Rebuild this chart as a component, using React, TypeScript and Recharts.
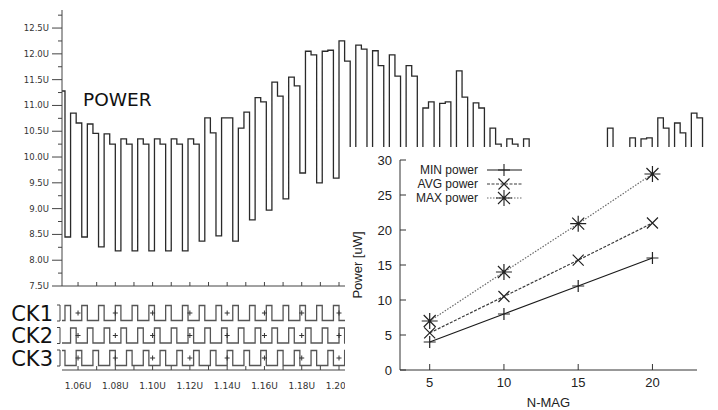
import { LineChart, Line, XAxis, YAxis, ComposedChart, Scatter, Legend } from 'recharts';

// ---- left panel: POWER waveform (time axis in U) ----
const T_START = 1.0514;
const T_END = 1.4033;
const CYCLE_START = 1.056;
const PHASE = 0.003;

const POWER_LEAD = [11.28, 8.45];
const POWER_H1 = [
  10.85, 10.64, 10.45, 10.35, 10.35, 10.35, 10.35, 10.35, 10.76, 10.76,
  10.56, 11.15, 11.45, 11.55, 12.05, 12.05, 12.25, 12.17, 12.06, 11.98,
  11.77, 10.95, 11.04, 11.67, 11.05, 10.56, 10.35, 10.35, 10.0, 9.9,
  9.9, 10.0, 10.56, 10.1, 10.35, 10.76, 10.66, 10.85,
];
const POWER_H2 = [
  10.66, 10.46, 10.25, 10.25, 10.25, 10.25, 10.25, 10.25, 10.47, 10.76,
  10.87, 11.07, 11.18, 11.38, 11.98, 12.07, 11.86, 12.09, 11.77, 11.57,
  11.57, 11.07, 11.07, 11.16, 10.95, 10.25, 10.25, 10.1, 9.9, 9.8,
  9.8, 9.9, 10.1, 10.37, 10.37, 10.56, 10.47, 10.76,
];
const POWER_LOW = [
  8.45, 8.26, 8.18, 8.18, 8.18, 8.18, 8.18, 8.37, 8.47, 8.37,
  8.78, 8.97, 9.19, 9.69, 9.5, 9.59, 9.8, 9.9, 9.9, 9.8,
  9.7, 9.6, 9.5, 9.4, 9.3, 9.1, 9.0, 8.9, 8.8, 8.7,
  8.7, 8.8, 8.9, 9.0, 9.1, 9.2, 9.3, 9.4,
];

const Y_TICKS = [
  7.5, 7.75, 8, 8.25, 8.5, 8.75, 9, 9.25, 9.5, 9.75, 10, 10.25,
  10.5, 10.75, 11, 11.25, 11.5, 11.75, 12, 12.25, 12.5, 12.75,
];
const Y_LABELS = [7.5, 8, 8.5, 9, 9.5, 10, 10.5, 11, 11.5, 12, 12.5];
const X_TICKS = [
  1.06, 1.07, 1.08, 1.09, 1.1, 1.11, 1.12, 1.13, 1.14, 1.15, 1.16, 1.17,
  1.18, 1.19, 1.2, 1.21, 1.22, 1.23, 1.24, 1.25, 1.26, 1.27, 1.28, 1.29,
  1.3, 1.31, 1.32, 1.33, 1.34, 1.35, 1.36, 1.37, 1.38, 1.39, 1.4,
];
// only these labels show left of the inset
const X_LABELS = [1.06, 1.08, 1.1, 1.12, 1.14, 1.16, 1.18, 1.2];

// clocks: one char per phase, first char is the level before the first boundary
const CK_NAMES = ['CK1', 'CK2', 'CK3'];
const CK_ROWS = [3.5, 2, 0.5];
const CK_LEVELS = [
  '0' + '100100100100100100' + '100100100100100100' + '100100100100100100',
  '0' + '010010010010010010' + '010010010010010010' + '010010010010010010',
  '1' + '001001001001001001' + '001001001001001001' + '001001001001001001',
];

// ---- inset: power vs N-MAG ----
const N_MAG = [5, 10, 15, 20];
const MIN_POWER = [4, 8, 12, 16];
const AVG_POWER = [5.3, 10.5, 15.7, 21];
const MAX_POWER = [7, 14, 20.9, 28];
const N_TICKS = [5, 10, 15, 20];
const P_TICKS = [0, 5, 10, 15, 20, 25, 30];

const powerData: { t: number; v: number }[] = [
  { t: T_START, v: POWER_LEAD[0] },
  { t: CYCLE_START - PHASE, v: POWER_LEAD[1] },
];
POWER_H1.forEach((h, k) => {
  const t = CYCLE_START + k * 3 * PHASE;
  powerData.push({ t, v: h }, { t: t + PHASE, v: POWER_H2[k] }, { t: t + 2 * PHASE, v: POWER_LOW[k] });
});
powerData.push({ t: T_END, v: POWER_LOW[POWER_LOW.length - 1] });

const clockData = CK_LEVELS.map((bits, r) => {
  const base = CK_ROWS[r] - 0.5;
  const pts = [{ t: T_START, v: base + Number(bits[0]) }];
  for (let j = 1; j < bits.length; j++) {
    pts.push({ t: CYCLE_START - PHASE + (j - 1) * PHASE, v: base + Number(bits[j]) });
  }
  return pts;
});

const plusData = CK_ROWS.flatMap((y) => X_LABELS.map((t) => ({ t, y })));

const insetData = N_MAG.map((n, i) => ({ n, min: MIN_POWER[i], avg: AVG_POWER[i], max: MAX_POWER[i] }));

const SERIES = [
  { key: 'min', name: 'MIN power', color: '#1a1a1a', dash: undefined, mark: 'plus' },
  { key: 'avg', name: 'AVG power', color: '#3a3a3a', dash: '3 1.5', mark: 'cross' },
  { key: 'max', name: 'MAX power', color: '#6a6a6a', dash: '1.5 1.5', mark: 'star' },
];

const WAVE_FONT = '"DejaVu Sans", sans-serif';
const PLOT_FONT = '"Liberation Sans", Arial, sans-serif';

const PowerYTick = ({ x, y, payload }: any) => {
  const major = Y_LABELS.includes(payload.value);
  return (
    <g>
      <line x1={x - (major ? 10 : 4)} x2={x} y1={y} y2={y} stroke="#444" />
      {major && (
        <text x={x - 13} y={y} dy="0.35em" textAnchor="end" fontSize={8.5} fill="#333" fontFamily={WAVE_FONT}>
          {payload.value.toFixed(1)}U
        </text>
      )}
    </g>
  );
};

const UpTick = ({ x, y }: any) => <line x1={x} x2={x} y1={y} y2={y - 4} stroke="#444" />;

const ClockXTick = ({ x, y, payload }: any) => (
  <g>
    <line x1={x} x2={x} y1={y} y2={y - 4} stroke="#444" />
    {X_LABELS.includes(payload.value) && (
      <text x={x} y={y + 19} textAnchor="middle" fontSize={9} fill="#333" fontFamily={WAVE_FONT}>
        {payload.value.toFixed(2)}U
      </text>
    )}
  </g>
);

const ClockYTick = ({ x, y, payload }: any) => {
  const i = CK_ROWS.indexOf(payload.value);
  return (
    <g>
      <path d={`M${x - 5},${y - 8}H${x - 2}V${y + 8}H${x - 5}`} fill="none" stroke="#444" />
      <text x={x - 9} y={y} dy="0.36em" textAnchor="end" fontSize={21} fill="#111" fontFamily={WAVE_FONT}>
        {CK_NAMES[i]}
      </text>
    </g>
  );
};

const PlusShape = ({ cx, cy }: any) => (
  <path d={`M${cx - 2.5},${cy}h5M${cx},${cy - 2.5}v5`} stroke="#333" strokeWidth={1} />
);

const markPath = (kind: string, cx: number, cy: number) => {
  if (kind === 'plus') return `M${cx - 6},${cy}h12M${cx},${cy - 6}v12`;
  if (kind === 'cross') return `M${cx - 5.5},${cy - 5.5}l11,11M${cx - 5.5},${cy + 5.5}l11,-11`;
  return `M${cx - 8},${cy}h16M${cx},${cy - 8}v16M${cx - 6},${cy - 6}l12,12M${cx - 6},${cy + 6}l12,-12`;
};

const InsetYTick = ({ x, y, payload }: any) => (
  <g>
    <line x1={x} x2={x + 6} y1={y} y2={y} stroke="#333" />
    <text x={x - 8} y={y} dy="0.36em" textAnchor="end" fontSize={13} fill="#222" fontFamily={PLOT_FONT}>
      {payload.value}
    </text>
  </g>
);
const InsetXTick = ({ x, y, payload }: any) => (
  <g>
    <line x1={x} x2={x} y1={y} y2={y - 6} stroke="#333" />
    <text x={x} y={y + 17} textAnchor="middle" fontSize={13} fill="#222" fontFamily={PLOT_FONT}>
      {payload.value}
    </text>
  </g>
);
const TopTick = ({ x, y }: any) => <line x1={x} x2={x} y1={y} y2={y + 6} stroke="#333" />;
const RightTick = ({ x, y }: any) => <line x1={x} x2={x - 6} y1={y} y2={y} stroke="#333" />;

const InsetLegend = () => (
  <svg width={200} height={46}>
    {SERIES.map((s, i) => {
      const y = 7 + i * 14;
      return (
        <g key={s.key}>
          <text x={73} y={y} dy="0.36em" textAnchor="end" fontSize={12} fill="#222" fontFamily={PLOT_FONT}>
            {s.name}
          </text>
          <line x1={82} x2={117} y1={y} y2={y} stroke={s.color} strokeDasharray={s.dash} strokeWidth={1.2} />
          <path d={markPath(s.mark, 99, y)} stroke="#222" strokeWidth={1.1} fill="none" />
        </g>
      );
    })}
  </svg>
);

export default function App() {
  return (
    <div style={{ position: 'absolute', left: 0, top: 0, width: 718, height: 410, background: '#fff', overflow: 'hidden' }}>
      <div style={{ position: 'absolute', left: 0, top: 0 }}>
        <LineChart width={718} height={300} data={powerData} margin={{ top: 10, right: 0, bottom: 0, left: 0 }}>
          <XAxis
            type="number"
            dataKey="t"
            domain={[T_START, T_END]}
            allowDataOverflow
            ticks={X_TICKS}
            interval={0}
            height={14}
            tickSize={0}
            tickMargin={0}
            tickLine={false}
            tick={UpTick}
            axisLine={{ stroke: '#444' }}
          />
          <YAxis
            type="number"
            domain={[7.5, 12.85]}
            allowDataOverflow
            ticks={Y_TICKS}
            interval={0}
            width={62}
            tickSize={0}
            tickMargin={0}
            tickLine={false}
            tick={PowerYTick}
            axisLine={{ stroke: '#444' }}
          />
          <Line
            type="stepAfter"
            dataKey="v"
            stroke="#2a2a2a"
            strokeWidth={1.3}
            dot={false}
            isAnimationActive={false}
          />
        </LineChart>
      </div>

      <div
        style={{
          position: 'absolute',
          left: 83,
          top: 89,
          fontFamily: WAVE_FONT,
          fontSize: 18.5,
          lineHeight: '22px',
          color: '#111',
        }}
      >
        POWER
      </div>

      <div style={{ position: 'absolute', left: 0, top: 290 }}>
        <ComposedChart width={718} height={120} margin={{ top: 9.5, right: 0, bottom: 0, left: 0 }}>
          <XAxis
            type="number"
            dataKey="t"
            domain={[T_START, T_END]}
            allowDataOverflow
            ticks={X_TICKS}
            interval={0}
            height={40}
            tickSize={0}
            tickMargin={0}
            tickLine={false}
            tick={ClockXTick}
            axisLine={{ stroke: '#444' }}
          />
          <YAxis
            type="number"
            domain={[-0.3, 4.4]}
            allowDataOverflow
            ticks={CK_ROWS}
            interval={0}
            width={62}
            tickSize={0}
            tickMargin={0}
            tickLine={false}
            axisLine={false}
            tick={ClockYTick}
          />
          {clockData.map((d, r) => (
            <Line
              key={CK_NAMES[r]}
              data={d}
              type="stepAfter"
              dataKey="v"
              stroke="#555"
              strokeWidth={1.3}
              dot={false}
              isAnimationActive={false}
            />
          ))}
          <Scatter data={plusData} dataKey="y" shape={PlusShape} isAnimationActive={false} />
        </ComposedChart>
      </div>

      <div style={{ position: 'absolute', left: 345, top: 147, width: 373, height: 263, background: '#fff' }}>
        <LineChart width={373} height={263} data={insetData} margin={{ top: 13, right: 21, bottom: 0, left: 0 }}>
          <XAxis
            type="number"
            dataKey="n"
            domain={[3, 23]}
            allowDataOverflow
            ticks={N_TICKS}
            interval={0}
            height={40}
            tickSize={0}
            tickMargin={0}
            tickLine={false}
            tick={InsetXTick}
            axisLine={{ stroke: '#333' }}
            label={({ viewBox }: any) => (
              <text
                x={viewBox.x + viewBox.width / 2}
                y={viewBox.y + 36.5}
                textAnchor="middle"
                fontSize={13}
                fill="#222"
                fontFamily={PLOT_FONT}
              >
                N-MAG
              </text>
            )}
          />
          <XAxis
            xAxisId="top"
            orientation="top"
            type="number"
            domain={[3, 23]}
            allowDataOverflow
            ticks={N_TICKS}
            interval={0}
            height={0}
            tickSize={0}
            tickMargin={0}
            tickLine={false}
            tick={TopTick}
            axisLine={{ stroke: '#333' }}
          />
          <YAxis
            type="number"
            domain={[0, 30]}
            allowDataOverflow
            ticks={P_TICKS}
            interval={0}
            width={55}
            tickSize={0}
            tickMargin={0}
            tickLine={false}
            tick={InsetYTick}
            axisLine={{ stroke: '#333' }}
            label={({ viewBox }: any) => {
              const cx = viewBox.x + 12;
              const cy = viewBox.y + viewBox.height / 2;
              return (
                <text
                  x={cx}
                  y={cy}
                  dy="0.36em"
                  transform={`rotate(-90, ${cx}, ${cy})`}
                  textAnchor="middle"
                  fontSize={13}
                  fill="#222"
                  fontFamily={PLOT_FONT}
                >
                  Power [uW]
                </text>
              );
            }}
          />
          <YAxis
            yAxisId="right"
            orientation="right"
            type="number"
            domain={[0, 30]}
            allowDataOverflow
            ticks={P_TICKS}
            interval={0}
            width={0}
            tickSize={0}
            tickMargin={0}
            tickLine={false}
            tick={RightTick}
            axisLine={{ stroke: '#333' }}
          />
          {SERIES.map((s) => (
            <Line
              key={s.key}
              dataKey={s.key}
              name={s.name}
              stroke={s.color}
              strokeWidth={1.2}
              strokeDasharray={s.dash}
              isAnimationActive={false}
              dot={(p: any) => (
                <path key={`${s.key}-${p.index}`} d={markPath(s.mark, p.cx, p.cy)} stroke="#222" strokeWidth={1.2} fill="none" />
              )}
              activeDot={false}
            />
          ))}
          <Legend
            content={InsetLegend}
            layout="vertical"
            align="center"
            verticalAlign="middle"
            wrapperStyle={{ left: 60, top: 16, width: 200, height: 46 }}
          />
        </LineChart>
      </div>
    </div>
  );
}
